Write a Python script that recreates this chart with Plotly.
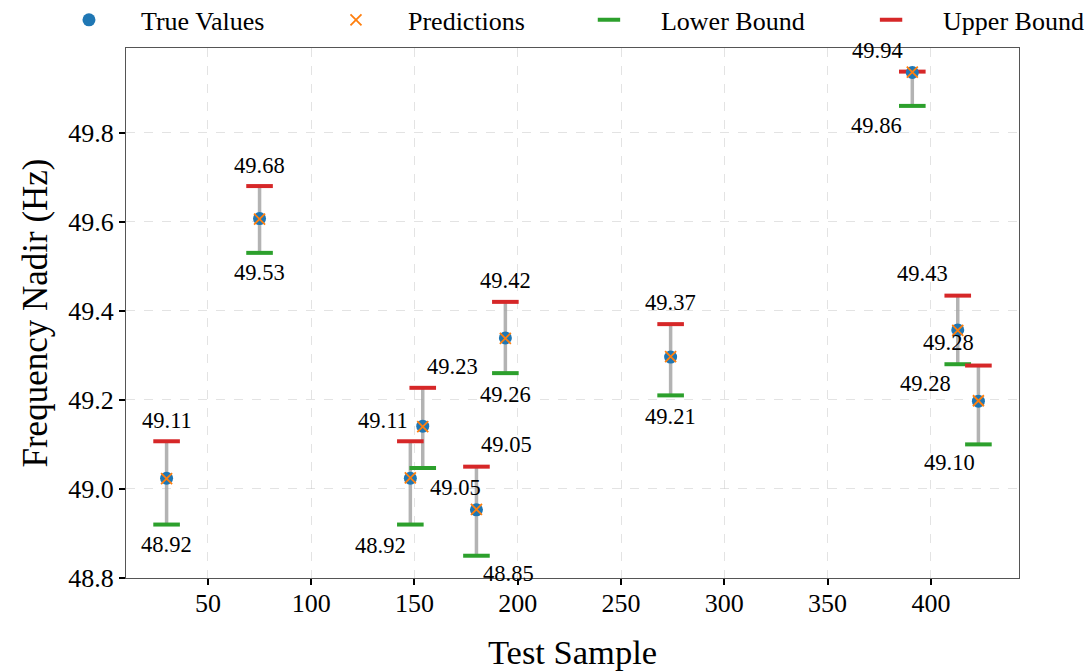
import plotly.graph_objects as go

# ---- data ----
test_sample = [30, 75, 148, 154, 180, 194, 274, 391, 413, 423]
true_values = [49.024, 49.607, 49.024, 49.141, 48.953, 49.339, 49.296, 49.935, 49.357, 49.197]
predictions = [49.023, 49.606, 49.025, 49.140, 48.954, 49.338, 49.297, 49.936, 49.356, 49.198]
lower_bound = [48.92, 49.53, 48.92, 49.047, 48.85, 49.26, 49.21, 49.86, 49.28, 49.10]
upper_bound = [49.107, 49.68, 49.107, 49.227, 49.05, 49.42, 49.37, 49.937, 49.434, 49.277]

# ---- label offsets (style, in px) ----
upper_dx = [0, 0, -27, 30, 30, 0, 0, -35, -35, -30]
lower_dx = [0, 0, -30, 33, 32, 0, 0, -36, -32, -29]
upper_dy = [21, 21, 21, 21, 22, 21, 22, 21, 22, 23]
lower_dy = [20, 20, 21, 20, 18, 21, 21, 20, 19, 18]

FONT = "Liberation Serif"

fig = go.Figure()

# gray interval lines
lx, ly = [], []
for xv, lo, hi in zip(test_sample, lower_bound, upper_bound):
    lx += [xv, xv, None]
    ly += [lo, hi, None]
fig.add_trace(go.Scatter(x=lx, y=ly, mode="lines",
                         line=dict(color="rgba(160,160,160,0.8)", width=3.5),
                         showlegend=False, hoverinfo="skip"))

fig.add_trace(go.Scatter(x=test_sample, y=lower_bound, mode="markers", name="Lower Bound",
                         legend="legend3",
                         marker=dict(symbol="line-ew", size=19, color="#2ca02c",
                                     line=dict(color="#2ca02c", width=4))))
fig.add_trace(go.Scatter(x=test_sample, y=upper_bound, mode="markers", name="Upper Bound",
                         legend="legend4",
                         marker=dict(symbol="line-ew", size=19, color="#d62728",
                                     line=dict(color="#d62728", width=4))))
fig.add_trace(go.Scatter(x=test_sample, y=true_values, mode="markers", name="True Values",
                         legend="legend",
                         marker=dict(symbol="circle", size=13, color="#1f77b4")))
fig.add_trace(go.Scatter(x=test_sample, y=predictions, mode="markers", name="Predictions",
                         legend="legend2",
                         marker=dict(symbol="x-thin", size=11, color="#ff7f0e",
                                     line=dict(color="#ff7f0e", width=1.8))))

annotations = []
for i, xv in enumerate(test_sample):
    annotations.append(dict(x=xv, y=upper_bound[i], text=f"{upper_bound[i]:.2f}",
                            showarrow=False, xshift=upper_dx[i], yshift=upper_dy[i],
                            font=dict(family=FONT, size=22.5, color="black")))
    annotations.append(dict(x=xv, y=lower_bound[i], text=f"{lower_bound[i]:.2f}",
                            showarrow=False, xshift=lower_dx[i], yshift=-lower_dy[i],
                            font=dict(family=FONT, size=22.5, color="black")))

axis_common = dict(showline=True, linecolor="#555555", linewidth=1.2, mirror=True,
                   ticks="outside", ticklen=6, tickwidth=1.5, tickcolor="black",
                   showgrid=True, gridcolor="rgba(200,200,200,0.5)", griddash="dash",
                   gridwidth=1, zeroline=False,
                   tickfont=dict(family=FONT, size=26, color="black"))


def leg(xpos):
    return dict(orientation="h", x=xpos, xanchor="left", y=1.053, yanchor="middle",
                font=dict(family=FONT, size=26, color="black"),
                itemwidth=94, bgcolor="rgba(0,0,0,0)")


fig.update_layout(
    width=1092, height=672,
    margin=dict(l=126, r=73, t=48, b=94, autoexpand=False),
    plot_bgcolor="white", paper_bgcolor="white",
    xaxis=dict(range=[10.35, 442.65], tickvals=[50, 100, 150, 200, 250, 300, 350, 400],
               ticklabelstandoff=-4,
               title=dict(text="Test Sample", font=dict(family=FONT, size=34.5, color="black"),
                          standoff=22),
               **axis_common),
    yaxis=dict(range=[48.8, 49.99], tickvals=[48.8, 49.0, 49.2, 49.4, 49.6, 49.8],
               tickformat=".1f",
               title=dict(text="Frequency Nadir (Hz)", font=dict(family=FONT, size=35, color="black"),
                          standoff=9),
               **axis_common),
    legend=leg(-0.0997),
    legend2=leg(0.1993),
    legend3=leg(0.4826),
    legend4=leg(0.7985),
    annotations=annotations,
)

fig.write_html("out.html")
